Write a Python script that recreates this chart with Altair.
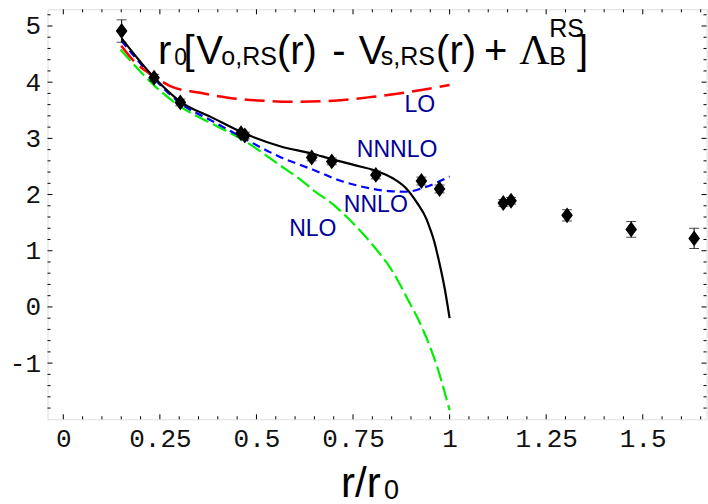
import altair as alt
import pandas as pd

# ---- lattice data points (r/r0, value, error) ----
pt_x = [0.151, 0.235, 0.303, 0.460, 0.470, 0.643, 0.695, 0.809, 0.927, 0.974, 1.139, 1.159, 1.304, 1.470, 1.633]
pt_y = [4.91, 4.08, 3.64, 3.09, 3.05, 2.66, 2.59, 2.35, 2.24, 2.10, 1.85, 1.89, 1.63, 1.38, 1.22]
pt_err = [0.20, 0.06, 0.06, 0.06, 0.06, 0.06, 0.06, 0.07, 0.07, 0.07, 0.06, 0.06, 0.10, 0.14, 0.18]

# ---- perturbative curves ----
lo_x = [0.150, 0.185, 0.240, 0.277, 0.354, 0.431, 0.517, 0.587, 0.700, 0.802, 0.889, 1.0]
lo_y = [4.65, 4.36, 4.08, 3.93, 3.81, 3.72, 3.67, 3.65, 3.67, 3.74, 3.82, 3.95]

nlo_x = [0.148, 0.237, 0.302, 0.388, 0.470, 0.561, 0.613, 0.647, 0.699, 0.734, 0.768, 0.785, 0.820, 0.846, 0.889, 0.932, 0.967, 1.0]
nlo_y = [4.58, 3.93, 3.57, 3.25, 2.95, 2.52, 2.27, 2.08, 1.82, 1.60, 1.36, 1.23, 0.94, 0.70, 0.17, -0.42, -1.05, -1.84]

nnlo_x = [0.150, 0.237, 0.302, 0.388, 0.470, 0.561, 0.647, 0.716, 0.780, 0.845, 0.889, 0.932, 1.0]
nnlo_y = [4.74, 4.05, 3.63, 3.30, 2.99, 2.67, 2.44, 2.25, 2.13, 2.06, 2.05, 2.12, 2.32]

nnnlo_x = [0.151, 0.237, 0.302, 0.388, 0.468, 0.561, 0.643, 0.695, 0.768, 0.811, 0.853, 0.889, 0.915, 0.941, 0.949, 0.960, 0.971, 0.988, 1.0]
nnnlo_y = [4.78, 4.07, 3.66, 3.36, 3.09, 2.86, 2.73, 2.63, 2.50, 2.42, 2.29, 2.10, 1.86, 1.55, 1.40, 1.17, 0.86, 0.30, -0.20]

# ---- curve labels ----
lab_text = ["LO", "NNNLO", "NNLO", "NLO"]
lab_x = [0.923, 0.864, 0.809, 0.646]
lab_y = [3.594, 2.79, 1.81, 1.39]

# ---- title pieces (text, x, y, size) ----
ttl_text = ["r", "0", "[", "V", "o,RS", "(r)", "-", "V", "s,RS", "(r)", "+", "RS", "B", "]"]
ttl_x = [0.245, 0.287, 0.311, 0.344, 0.409, 0.553, 0.696, 0.765, 0.822, 0.965, 1.089, 1.258, 1.258, 1.330]
ttl_y = [4.323, 4.306, 4.323, 4.323, 4.306, 4.323, 4.323, 4.323, 4.306, 4.323, 4.323, 4.80, 4.306, 4.323]
ttl_size = [40, 23, 40, 40, 25, 40, 40, 40, 25, 40, 40, 25, 25, 40]
lam_text = ["Λ"]
lam_x = [1.180]
lam_y = [4.323]

# ---- x axis title pieces ----
xt_text = ["r/r", "0"]
xt_x = [0.719, 0.830]
xt_y = [-3.385, -3.42]
xt_size = [42, 27]

# ---- frame ticks ----
x_major = [0, 0.25, 0.5, 0.75, 1, 1.25, 1.5]
x_minor = [round(0.05 * i, 2) for i in range(0, 34) if i % 5 != 0]
y_major = [-1, 0, 1, 2, 3, 4, 5]
y_minor = [round(-2 + 0.2 * i, 1) for i in range(1, 37) if i % 5 != 0]

W, H = 659, 410
xs = alt.Scale(domain=[-0.0409, 1.665], nice=False, zero=False)
ys = alt.Scale(domain=[-2.0, 5.297], nice=False, zero=False)

xax = alt.Axis(values=x_major, labelExpr="datum.value", ticks=False, domain=False, grid=False,
               labelFont="Liberation Mono", labelFontSize=26, labelColor="#111",
               labelPadding=6, labelFlush=False, title=None)
yax = alt.Axis(values=y_major, labelExpr="datum.value", ticks=False, domain=False, grid=False,
               labelFont="Liberation Mono", labelFontSize=26, labelColor="#111",
               labelPadding=7, title=None)


def X(f):
    return alt.X(f, scale=xs, axis=xax)


def Y(f):
    return alt.Y(f, scale=ys, axis=yax)


pts = pd.DataFrame({"x": pt_x, "y": pt_y, "e": pt_err})
pts["lo"] = pts["y"] - pts["e"]
pts["hi"] = pts["y"] + pts["e"]


def curve(xv, yv, color, dash, width):
    df = pd.DataFrame({"x": xv, "y": yv})
    kw = dict(color=color, strokeWidth=width, interpolate="monotone")
    if dash:
        kw["strokeDash"] = dash
    return alt.Chart(df).mark_line(**kw).encode(x=X("x:Q"), y=Y("y:Q"))


def xticks(vals, ln):
    df = pd.DataFrame({"x": vals})
    b = alt.Chart(df).mark_rule(color="black", strokeWidth=1)
    return (b.encode(x=X("x:Q"), y=alt.value(H), y2=alt.value(H - ln)) +
            b.encode(x=X("x:Q"), y=alt.value(0), y2=alt.value(ln)))


def yticks(vals, ln):
    df = pd.DataFrame({"y": vals})
    b = alt.Chart(df).mark_rule(color="black", strokeWidth=1)
    return (b.encode(y=Y("y:Q"), x=alt.value(0), x2=alt.value(ln)) +
            b.encode(y=Y("y:Q"), x=alt.value(W), x2=alt.value(W - ln)))


err_rule = alt.Chart(pts).mark_rule(color="black", strokeWidth=1).encode(
    x=X("x:Q"), y=Y("lo:Q"), y2="hi:Q")
cap_lo = alt.Chart(pts).mark_tick(orient="horizontal", size=10, thickness=1, color="black").encode(
    x=X("x:Q"), y=Y("lo:Q"))
cap_hi = alt.Chart(pts).mark_tick(orient="horizontal", size=10, thickness=1, color="black").encode(
    x=X("x:Q"), y=Y("hi:Q"))
diam = alt.Chart(pts).mark_point(shape="M0,-1.3L0.95,0L0,1.3L-0.95,0Z", filled=True, size=150,
                                 color="black", opacity=1).encode(x=X("x:Q"), y=Y("y:Q"))

labs = alt.Chart(pd.DataFrame({"x": lab_x, "y": lab_y, "t": lab_text})).mark_text(
    font="Liberation Sans", fontSize=23, color="#000099", align="center", baseline="middle").encode(
    x=X("x:Q"), y=Y("y:Q"), text="t:N")

ttl = alt.Chart(pd.DataFrame({"x": ttl_x, "y": ttl_y, "t": ttl_text, "s": ttl_size})).mark_text(
    font="Liberation Sans", color="black", align="left", baseline="alphabetic").encode(
    x=X("x:Q"), y=Y("y:Q"), text="t:N", size=alt.Size("s:Q", scale=None, legend=None))

lam = alt.Chart(pd.DataFrame({"x": lam_x, "y": lam_y, "t": lam_text})).mark_text(
    font="Liberation Serif", fontSize=42, color="black", align="left", baseline="alphabetic").encode(
    x=X("x:Q"), y=Y("y:Q"), text="t:N")

xt = alt.Chart(pd.DataFrame({"x": xt_x, "y": xt_y, "t": xt_text, "s": xt_size})).mark_text(
    font="Liberation Sans", color="black", align="left", baseline="alphabetic").encode(
    x=X("x:Q"), y=Y("y:Q"), text="t:N", size=alt.Size("s:Q", scale=None, legend=None))

chart = alt.layer(
    xticks(x_major, 5), xticks(x_minor, 3), yticks(y_major, 5), yticks(y_minor, 3),
    curve(nlo_x, nlo_y, "#00ee00", [15, 5], 2.2),
    curve(nnlo_x, nnlo_y, "#0000ff", [8, 5], 2.2),
    curve(lo_x, lo_y, "#ff0000", [20, 8], 2.5),
    curve(nnnlo_x, nnnlo_y, "black", None, 2.2),
    err_rule, cap_lo, cap_hi, diam,
    labs, ttl, lam, xt,
).properties(
    width=W, height=H, autosize="none",
    padding={"left": 47.5, "top": 9.3, "right": 1.5, "bottom": 84.7},
).configure_view(stroke="black", strokeWidth=1.5).configure(background="white")

chart.save("out.html", embed_options={"renderer": "svg", "actions": False})
